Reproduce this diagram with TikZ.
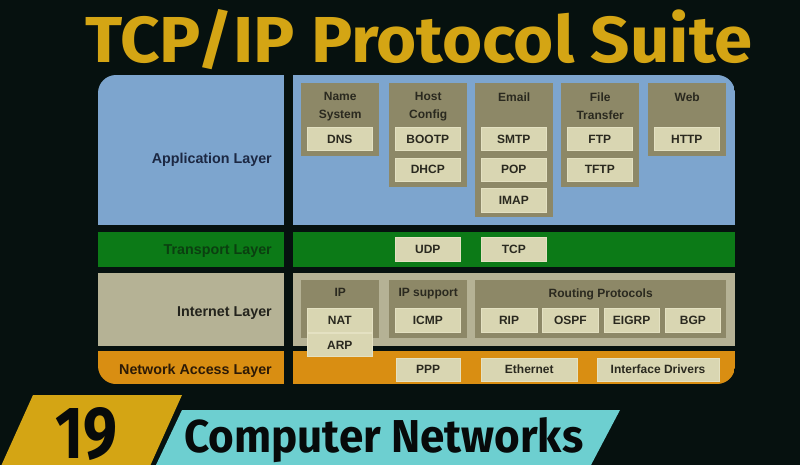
\documentclass[tikz,border=0pt]{standalone}
\usepackage{fontspec}
\setmainfont{Liberation Sans}
\newfontfamily\bannerfont{Fira Sans}
\usetikzlibrary{positioning}

\definecolor{bgdark}{HTML}{06110F}
\definecolor{titleyellow}{HTML}{D4A514}
\definecolor{appblue}{HTML}{7DA5CE}
\definecolor{tpgreen}{HTML}{0C7A17}
\definecolor{inettan}{HTML}{B5B295}
\definecolor{naorange}{HTML}{D98E12}
\definecolor{groupolive}{HTML}{8D8867}
\definecolor{protocream}{HTML}{D9D6B2}
\definecolor{protoedge}{HTML}{E4E1C2}
\definecolor{boxtext}{HTML}{2A291F}
\definecolor{appnavy}{HTML}{1C2843}
\definecolor{tpdark}{HTML}{0B3F10}
\definecolor{inetdark}{HTML}{23231C}
\definecolor{nadark}{HTML}{2C1A06}
\definecolor{bannercyan}{HTML}{6DCFD0}
\definecolor{bannerink}{HTML}{070A0A}

\begin{document}
\begin{tikzpicture}[x=1pt, y=-1pt,
  layerlabel/.style={anchor=base east, inner sep=0pt, font=\fontsize{14.3}{16}\selectfont\bfseries},
  group/.style={fill=groupolive, anchor=north west, inner sep=0pt, minimum width=78pt},
  gtitle/.style={inner sep=0pt, align=center, text=boxtext, font=\fontsize{12}{18}\selectfont\bfseries},
  proto/.style={fill=protocream, draw=protoedge, line width=0.6pt, anchor=north west, inner sep=0pt,
    minimum width=65pt, minimum height=23.4pt, text=boxtext, font=\fontsize{12}{14}\selectfont\bfseries},
  banner/.style={inner sep=0pt, anchor=base west}
]

\fill[bgdark] (0,0) rectangle (800,465);
\useasboundingbox (0,0) rectangle (800,465);

% title
\node[banner, text=titleyellow] (title) at (85,63) {\resizebox{667pt}{53pt}{\bannerfont\bfseries TCP/IP Protocol Suite}};

% layer bands
\begin{scope}
  \clip[rounded corners=18pt] (98,75) rectangle (735,384);
  \fill[appblue] (98,75) rectangle (284,225);
  \fill[appblue] (293,75) rectangle (735,225);
  \fill[tpgreen] (98,232) rectangle (284,267);
  \fill[tpgreen] (293,232) rectangle (735,267);
  \fill[inettan] (98,273) rectangle (284,346);
  \fill[inettan] (293,273) rectangle (735,346);
  \fill[naorange] (98,351) rectangle (284,384);
  \fill[naorange] (293,351) rectangle (735,384);
\end{scope}

\node[layerlabel, text=appnavy] (applbl) at (272,164) {Application Layer};
\node[layerlabel, text=tpdark] (tplbl) at (272,254) {Transport Layer};
\node[layerlabel, text=inetdark] (inetlbl) at (272,316) {Internet Layer};
\node[layerlabel, text=nadark] (nalbl) at (272,374.5) {Network Access Layer};

% application layer
\node[group, minimum height=73pt] (namegrp) at (301,83) {};
\node[group, minimum height=104pt] (hostgrp) at (389,83) {};
\node[group, minimum height=134pt] (mailgrp) at (475,83) {};
\node[group, minimum height=104pt] (filegrp) at (561,83) {};
\node[group, minimum height=73pt] (webgrp) at (648,83) {};

\node[gtitle, below=9.5pt of namegrp.north] (namettl) {Name\\System};
\node[gtitle, below=9.5pt of hostgrp.north] (hostttl) {Host\\Config};
\node[gtitle, below=9.5pt of mailgrp.north] (mailttl) {Email};
\node[gtitle, below=9.5pt of filegrp.north] (filettl) {File\\Transfer};
\node[gtitle, below=9.5pt of webgrp.north] (webttl) {Web};

\node[proto] (dns) at (307,127) {DNS};
\node[proto] (bootp) at (395,127) {BOOTP};
\node[proto, below=6.6pt of bootp] (dhcp) {DHCP};
\node[proto] (smtp) at (481,127) {SMTP};
\node[proto, below=6.6pt of smtp] (pop) {POP};
\node[proto, below=6.6pt of pop] (imap) {IMAP};
\node[proto] (ftp) at (567,127) {FTP};
\node[proto, below=6.6pt of ftp] (tftp) {TFTP};
\node[proto] (http) at (654,127) {HTTP};

% transport layer
\node[proto] (udp) at (395,237.3) {UDP};
\node[proto] (tcp) at (481,237.3) {TCP};

% internet layer
\node[group, minimum height=58.4pt] (ipgrp) at (301,279.3) {};
\node[group, minimum height=58.4pt] (ipsupgrp) at (389,279.3) {};
\node[group, minimum height=58.4pt, minimum width=251pt] (routegrp) at (475,279.3) {};

\node[gtitle, below=9pt of ipgrp.north] (ipttl) {IP};
\node[gtitle, below=9pt of ipsupgrp.north] (ipsupttl) {IP support};
\node[gtitle, below=9pt of routegrp.north] (routettl) {Routing Protocols};

\node[proto] (nat) at (307,308.3) {NAT};
\node[proto, below=0.6pt of nat] (arp) {ARP};
\node[proto] (icmp) at (395,308.3) {ICMP};
\node[proto, minimum width=55.5pt] (rip) at (481,308.3) {RIP};
\node[proto, minimum width=55.5pt, right=5.2pt of rip] (ospf) {OSPF};
\node[proto, minimum width=55.5pt, right=5.2pt of ospf] (eigrp) {EIGRP};
\node[proto, minimum width=55.5pt, right=5.2pt of eigrp] (bgp) {BGP};

% network access layer
\node[proto, minimum width=64.5pt] (ppp) at (395.5,357.7) {PPP};
\node[proto, minimum width=96pt] (ether) at (481,357.7) {Ethernet};
\node[proto, minimum width=121.5pt] (ifdrv) at (597,357.7) {Interface Drivers};

% series banner
\fill[titleyellow] (33,395) -- (182,395) -- (150.5,465) -- (1.5,465) -- cycle;
\fill[bannercyan] (182,410) -- (620,410) -- (591,465) -- (156,465) -- cycle;
\node[banner, text=bannerink] (epnum) at (55,458) {\resizebox{62pt}{51pt}{\bannerfont\bfseries 19}};
\node[banner, text=bannerink] (series) at (184,452) {\resizebox{399pt}{35pt}{\bannerfont\bfseries Computer Networks}};

\end{tikzpicture}
\end{document}
